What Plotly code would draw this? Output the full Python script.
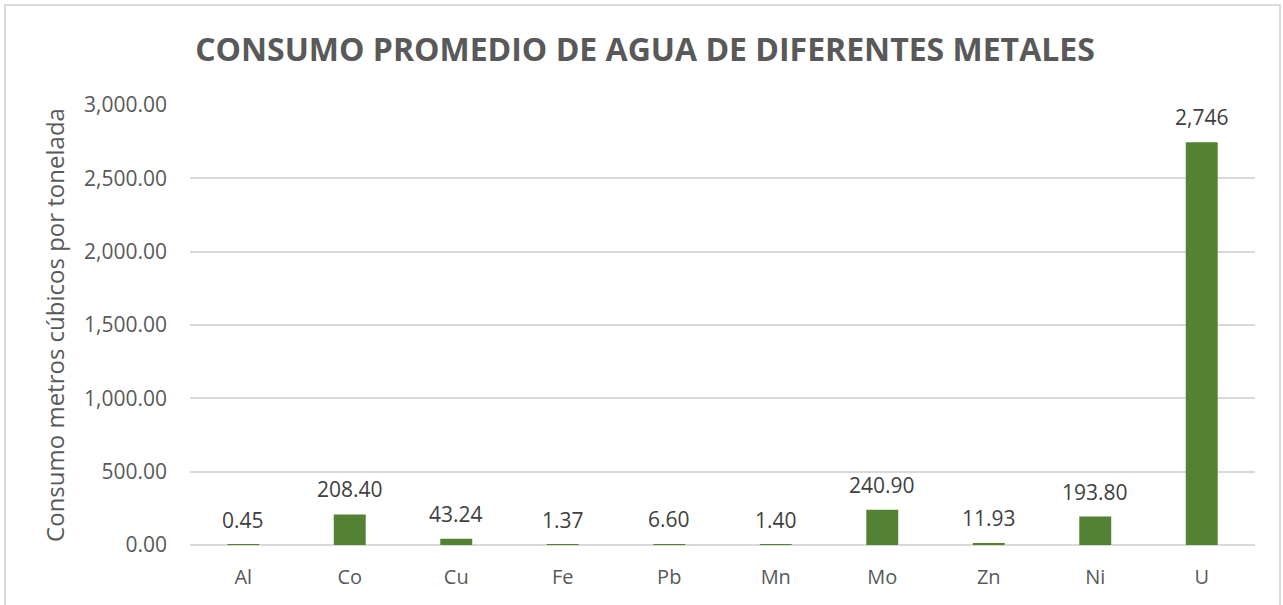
import plotly.graph_objects as go

metals = ["Al", "Co", "Cu", "Fe", "Pb", "Mn", "Mo", "Zn", "Ni", "U"]
consumo = [0.45, 208.40, 43.24, 1.37, 6.60, 1.40, 240.90, 11.93, 193.80, 2746]
labels = ["0.45", "208.40", "43.24", "1.37", "6.60", "1.40", "240.90", "11.93", "193.80", "2,746"]
y_ticks = [0, 500, 1000, 1500, 2000, 2500, 3000]

W, H = 1283, 605
L, R, T, B = 190, 28, 105, 60
pw, ph = W - L - R, H - T - B

def px(x):
    return (x - L) / pw

def py(y):
    return (H - B - y) / ph

FONT = "Open Sans, sans-serif"

fig = go.Figure(go.Bar(
    x=metals, y=consumo, width=0.3,
    marker=dict(color="#548235", line=dict(width=0)),
))

annotations = [
    dict(x=m, y=v, text=t, xref="x", yref="y", showarrow=False,
         yanchor="bottom", xanchor="center", yshift=9,
         font=dict(family=FONT, size=21, color="#404040"))
    for m, v, t in zip(metals, consumo, labels)
]

fig.update_layout(
    width=W, height=H,
    margin=dict(l=L, r=R, t=T, b=B, autoexpand=False),
    paper_bgcolor="white", plot_bgcolor="white",
    showlegend=False,
    annotations=annotations,
    title=dict(text="<b>CONSUMO PROMEDIO DE AGUA DE DIFERENTES METALES</b>",
               x=645 / W, xanchor="center", y=1 - 50 / H, yanchor="middle",
               font=dict(family=FONT, size=32, color="#595959")),
    xaxis=dict(showgrid=False, showline=False, ticks="", ticklabelstandoff=18, automargin=False,
               tickfont=dict(family=FONT, size=20, color="#595959")),
    yaxis=dict(range=[0, 3000], tickvals=y_ticks, tickformat=",.2f", automargin=False,
               showgrid=True, gridcolor="#d9d9d9", gridwidth=1.5,
               zeroline=True, zerolinecolor="#d9d9d9", zerolinewidth=1.5,
               showline=False, ticks="", ticklabelstandoff=22,
               tickfont=dict(family=FONT, size=21, color="#595959"),
               title=dict(text="Consumo metros cúbicos por tonelada", standoff=12,
                          font=dict(family=FONT, size=24, color="#595959"))),
    shapes=[dict(type="rect", xref="paper", yref="paper",
                 x0=px(5), x1=px(1280), y0=py(640), y1=py(5),
                 line=dict(color="#d0d0d0", width=1.5), fillcolor="rgba(0,0,0,0)", layer="below")],
)

fig.write_html("out.html", config={"displayModeBar": False},
               post_script="document.body.style.margin='0';")
